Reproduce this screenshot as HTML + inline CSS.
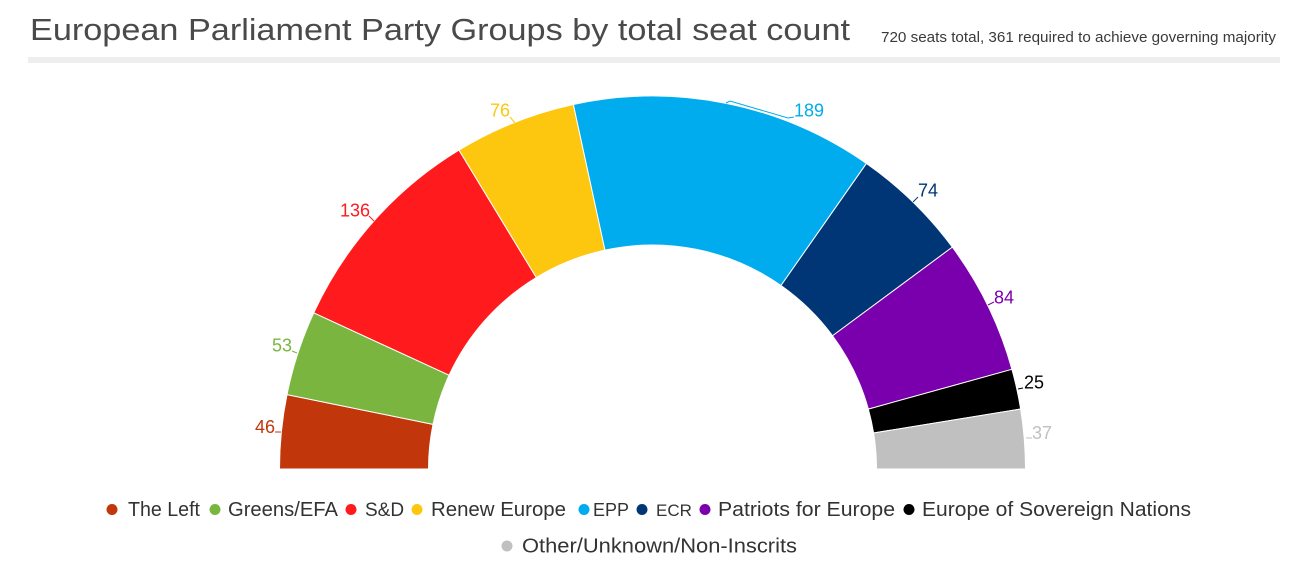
<!DOCTYPE html>
<html><head><meta charset="utf-8"><style>
html,body{margin:0;padding:0;background:#fff;}
svg{display:block;}
</style></head><body>
<svg width="1304" height="568" viewBox="0 0 1304 568" xmlns="http://www.w3.org/2000/svg" font-family="'Liberation Sans', sans-serif">
<rect width="1304" height="568" fill="#fff"/>
<text x="30" y="40" font-size="31" fill="#4a4a4a" textLength="820" lengthAdjust="spacingAndGlyphs">European Parliament Party Groups by total seat count</text>
<text x="881" y="42" font-size="14.5" fill="#3a3a3a" textLength="395" lengthAdjust="spacingAndGlyphs">720 seats total, 361 required to achieve governing majority</text>
<rect x="28" y="57" width="1252" height="6" fill="#eeeeee"/>

<g stroke="#fff" stroke-width="1" stroke-linejoin="round">
<path d="M279.5 469 A373 373 0 0 1 287.0 394.63 L433.0 424.34 A224 224 0 0 0 428.5 469 Z" fill="#c1360b"/>
<path d="M287.0 394.63 A373 373 0 0 1 313.76 312.84 L449.08 375.22 A224 224 0 0 0 433.0 424.34 Z" fill="#7ab63f"/>
<path d="M313.76 312.84 A373 373 0 0 1 459.0 150.12 L536.3 277.5 A224 224 0 0 0 449.08 375.22 Z" fill="#fe1a1d"/>
<path d="M459.0 150.12 A373 373 0 0 1 573.36 104.49 L604.97 250.10 A224 224 0 0 0 536.3 277.5 Z" fill="#fdc70f"/>
<path d="M573.36 104.49 A373 373 0 0 1 866.44 163.46 L780.98 285.51 A224 224 0 0 0 604.97 250.10 Z" fill="#00aced"/>
<path d="M866.44 163.46 A373 373 0 0 1 952.34 247.13 L832.56 335.76 A224 224 0 0 0 780.98 285.51 Z" fill="#003675"/>
<path d="M952.34 247.13 A373 373 0 0 1 1011.93 369.32 L868.35 409.14 A224 224 0 0 0 832.56 335.76 Z" fill="#7a00ae"/>
<path d="M1011.93 369.32 A373 373 0 0 1 1020.65 409.04 L873.59 432.99 A224 224 0 0 0 868.35 409.14 Z" fill="#000000"/>
<path d="M1020.65 409.04 A373 373 0 0 1 1025.5 469 L876.5 469 A224 224 0 0 0 873.59 432.99 Z" fill="#c0c0c0"/>
</g>

<g fill="none" stroke-width="1">
<path d="M275 432 L281 432" stroke="#c1360b"/>
<path d="M292 351 L297 353" stroke="#7ab63f"/>
<path d="M369 216 L374 221" stroke="#fe1a1d"/>
<path d="M510 117 L515 123" stroke="#fdc70f"/>
<path d="M726 103 L730 101 L788 118 L794 117" stroke="#00aced"/>
<path d="M913 202 L918 197" stroke="#003675"/>
<path d="M988 305 L994 302" stroke="#7a00ae"/>
<path d="M1018 389 L1023 388" stroke="#000"/>
<path d="M1026 438 L1032 438" stroke="#c0c0c0"/>
</g>

<g font-size="18">
<text x="275" y="433" text-anchor="end" fill="#c1360b">46</text>
<text x="292" y="351.5" text-anchor="end" fill="#7ab63f">53</text>
<text x="370" y="216.5" text-anchor="end" fill="#fe1a1d">136</text>
<text x="510" y="116.5" text-anchor="end" fill="#fdc70f">76</text>
<text x="794" y="116.5" fill="#00aced">189</text>
<text x="918" y="196.5" fill="#003675">74</text>
<text x="994" y="303.5" fill="#7a00ae">84</text>
<text x="1024" y="388.5" fill="#000">25</text>
<text x="1032" y="439" fill="#c0c0c0">37</text>
</g>

<g font-size="20" fill="#333">
<circle cx="112" cy="509.5" r="5.5" fill="#c1360b"/>
<text x="128" y="516" textLength="72" lengthAdjust="spacingAndGlyphs">The Left</text>
<circle cx="215" cy="509.5" r="5.5" fill="#7ab63f"/>
<text x="228" y="516" textLength="110" lengthAdjust="spacingAndGlyphs">Greens/EFA</text>
<circle cx="351" cy="509.5" r="5.5" fill="#fe1a1d"/>
<text x="365" y="516" font-size="19">S&amp;D</text>
<circle cx="417" cy="509.5" r="5.5" fill="#fdc70f"/>
<text x="431" y="516" textLength="135" lengthAdjust="spacingAndGlyphs">Renew Europe</text>
<circle cx="584" cy="509.5" r="5.5" fill="#00aced"/>
<text x="593" y="516" font-size="18">EPP</text>
<circle cx="642" cy="509.5" r="5.5" fill="#003675"/>
<text x="656" y="516" font-size="17">ECR</text>
<circle cx="705" cy="509.5" r="5.5" fill="#7a00ae"/>
<text x="718" y="516" textLength="177" lengthAdjust="spacingAndGlyphs">Patriots for Europe</text>
<circle cx="909" cy="509.5" r="5.5" fill="#000"/>
<text x="922" y="516" textLength="269" lengthAdjust="spacingAndGlyphs">Europe of Sovereign Nations</text>
<circle cx="507" cy="546" r="5.5" fill="#c0c0c0"/>
<text x="522" y="552.5" textLength="275" lengthAdjust="spacingAndGlyphs">Other/Unknown/Non-Inscrits</text>
</g>
</svg>
</body></html>
